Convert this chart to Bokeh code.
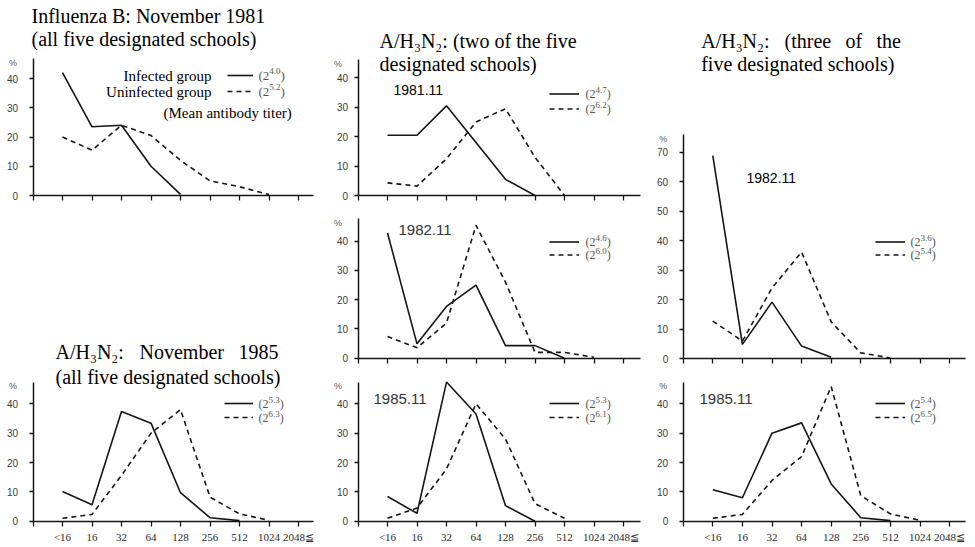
from bokeh.plotting import figure
from bokeh.layouts import row, column
from bokeh.models import Range1d, FixedTicker, Label, Legend, LegendItem
from bokeh.core.properties import value
from bokeh.embed import file_html
from bokeh.resources import INLINE

# HI antibody titer classes (x axis)
titers = ["<16", "16", "32", "64", "128", "256", "512", "1024", "2048\u2266"]

# Influenza B, November 1981 (all five schools)
b81_infected = [42, 23.5, 24, 10, 0.4]
b81_uninfected = [20, 15.5, 24, 20.5, 12, 5, 3, 0.3]
b81_titer = ("4.0", "5.2")

# A/H3N2, two of the five schools
h2_81_infected = [20.5, 20.5, 30.5, 18, 5.5, 0]
h2_81_uninfected = [4.3, 3.2, 12.5, 25, 29.5, 13, 0]
h2_81_titer = ("4.7", "6.2")

h2_82_infected = [42.8, 4.9, 17.7, 25, 4.3, 4.3, 0]
h2_82_uninfected = [7.4, 3.6, 12, 45.4, 26, 2, 2, 0.3]
h2_82_titer = ("4.6", "6.0")

h2_85_infected = [8.4, 2.7, 47.4, 36.5, 5.3, 0]
h2_85_uninfected = [1, 4.5, 17.8, 40, 28, 6, 1]
h2_85_titer = ("5.3", "6.1")

# A/H3N2, three of the five schools
h3_82_infected = [68.9, 4.9, 19.2, 4.3, 0.5]
h3_82_uninfected = [12.8, 6, 24, 36.2, 12.5, 2, 0.3]
h3_82_titer = ("3.6", "5.4")

h3_85_infected = [10.7, 8, 30, 33.5, 12.7, 1.2, 0.2]
h3_85_uninfected = [1, 2.3, 13.9, 22, 45.9, 8.7, 2.5, 0.3]
h3_85_titer = ("5.4", "6.5")

# A/H3N2, November 1985 (all five schools)
all85_infected = [10.1, 5.6, 37.4, 33.4, 9.7, 1.2, 0.2]
all85_uninfected = [1, 2.3, 15.6, 30, 38, 8.2, 2.5, 0.3]
all85_titer = ("5.3", "6.3")

yticks_40 = [0, 10, 20, 30, 40]
yticks_70 = [0, 10, 20, 30, 40, 50, 60, 70]

SERIF = "Liberation Serif"
SANS = "Liberation Sans"
INK = "#151515"

# column geometry: page x of the y axis, pixels per titer class, page x of the axis end
COL_A = (32.5, 29.5, 313)
COL_B = (357.5, 29.5, 640)
COL_C = (682.7, 29.6, 965)


class Panel:
    def __init__(self, fx, fy, width, height, col, zero_y, scale, top_y, yticks,
                 tick_labels, y_standoff):
        axis_x, dx, right_x = col
        self.fx, self.fy, self.h = fx, fy, height
        x0 = -1 - (axis_x - fx) / dx
        x1 = x0 + width / dx
        y1 = (zero_y - fy) / scale
        y0 = -(fy + height - zero_y) / scale
        self.x0, self.y1 = x0, y1
        p = figure(width=width, height=height, title=None,
                   x_range=Range1d(x0, x1), y_range=Range1d(y0, y1),
                   output_backend="svg", toolbar_location=None, min_border=0)
        p.outline_line_color = None
        p.xgrid.visible = False
        p.ygrid.visible = False
        p.background_fill_color = "white"
        p.border_fill_color = "white"

        xa = p.xaxis[0]
        xa.fixed_location = 0
        xa.bounds = (-1, (right_x - axis_x) / dx - 1)
        xa.ticker = FixedTicker(ticks=list(range(-1, len(titers))))
        if tick_labels:
            overrides = {-1: ""}
            overrides.update({i: t for i, t in enumerate(titers)})
        else:
            overrides = {i: "" for i in range(-1, len(titers))}
        xa.major_label_overrides = overrides
        xa.major_label_text_font_size = "11px"
        xa.major_label_standoff = 5
        xa.major_label_text_font = SERIF
        xa.major_label_text_color = "#2a2a2a"
        xa.major_tick_in = 0
        xa.major_tick_out = 5
        xa.minor_tick_out = 0
        xa.minor_tick_in = 0
        xa.axis_line_width = 1.5
        xa.major_tick_line_width = 1.3
        xa.axis_line_color = INK
        xa.major_tick_line_color = INK

        ya = p.yaxis[0]
        ya.fixed_location = -1
        ya.bounds = (0, (zero_y - top_y) / scale)
        ya.ticker = FixedTicker(ticks=yticks)
        ya.major_label_text_font = SANS
        ya.major_label_text_font_size = "10px"
        ya.major_label_text_color = "#3a3a3a"
        ya.major_label_standoff = y_standoff
        ya.major_tick_in = 0
        ya.major_tick_out = 4
        ya.minor_tick_out = 0
        ya.minor_tick_in = 0
        ya.axis_line_width = 1.5
        ya.major_tick_line_width = 1.3
        ya.axis_line_color = INK
        ya.major_tick_line_color = INK
        self.p = p
        # percent sign at the top of the y axis
        self.text("%", axis_x - 16, top_y + 4, 9, color="#555", font=SANS, align="right")

    def text(self, s, px, py, size, color="black", font=SERIF, align="left", baseline="middle"):
        self.p.add_layout(Label(x=self.x0, y=self.y1, x_offset=px - self.fx,
                                y_offset=-(py - self.fy), text=s, text_font=font,
                                text_font_size=f"{size}px", text_color=color,
                                text_align=align, text_baseline=baseline))

    def series(self, infected, uninfected, titer, sample_x, rows, glyph_w, t_x, base=12):
        p = self.p
        r1 = p.line(list(range(len(infected))), infected, line_width=1.6, line_color=INK)
        r2 = p.line(list(range(len(uninfected))), uninfected, line_width=1.6, line_color=INK,
                    line_dash="5 4")
        gap = rows[1] - rows[0]
        legend = Legend(items=[LegendItem(label=value(" "), renderers=[r1]),
                               LegendItem(label=value(" "), renderers=[r2])],
                        location=(sample_x - self.fx, self.fy + self.h - (rows[1] + gap / 2)),
                        glyph_width=glyph_w, glyph_height=gap, label_height=gap,
                        label_width=0, label_standoff=0, spacing=0, padding=0, margin=0,
                        border_line_color=None, background_fill_alpha=0,
                        label_text_font_size="1px")
        p.add_layout(legend)
        for exp, y in zip(titer, rows):
            self.text("(2", t_x, y, base, color="#555")
            w1 = 0.833 * base
            sup = round(base * 0.72)
            self.text(exp, t_x + w1, y - base * 0.33, sup, color="#555")
            w2 = 1.25 * sup
            self.text(")", t_x + w1 + w2, y, base, color="#555")


# --- column A ---
pa1 = Panel(0, 0, 330, 330, COL_A, 195, 2.925, 58, yticks_40, False, 11)
pa1.series(b81_infected, b81_uninfected, b81_titer, 227, (75, 91), 26, 258, base=13)
pa1.text("Influenza B: November 1981", 31, 15, 20)
pa1.text("(all five designated schools)", 31, 38, 20)
pa1.text("Infected group", 211, 75, 15, align="right")
pa1.text("Uninfected group", 211, 91, 15, align="right")
pa1.text("(Mean antibody titer)", 163, 112, 15)

pa2 = Panel(0, 330, 330, 217, COL_A, 520.7, 2.935, 381.7, yticks_40, True, 11)
pa2.series(all85_infected, all85_uninfected, all85_titer, 224, (403, 417), 29, 258)
pa2.text("A/H\u2083N\u2082:", 55, 351.7, 20)
pa2.text("November", 139, 351.7, 20)
pa2.text("1985", 278, 351.7, 20, align="right")
pa2.text("(all five designated schools)", 55, 376.7, 20)

# --- column B ---
pb1 = Panel(330, 0, 325, 207, COL_B, 195, 2.94, 59, yticks_40, False, 6)
pb1.series(h2_81_infected, h2_81_uninfected, h2_81_titer, 549, (93, 108), 30, 585)
pb1.text("A/H\u2083N\u2082: (two of the five", 379, 40, 20)
pb1.text("designated schools)", 379, 63, 20)
pb1.text("1981.11", 393, 89, 14, font=SANS)

pb2 = Panel(330, 207, 325, 163, COL_B, 357.7, 2.925, 218, yticks_40, False, 6)
pb2.series(h2_82_infected, h2_82_uninfected, h2_82_titer, 549, (241, 254), 30, 585)
pb2.text("1982.11", 398, 229, 15, color="#333", font=SANS)

pb3 = Panel(330, 370, 325, 177, COL_B, 520.7, 2.935, 381.7, yticks_40, True, 6)
pb3.series(h2_85_infected, h2_85_uninfected, h2_85_titer, 549, (403, 417), 30, 585)
pb3.text("1985.11", 373, 398, 15, color="#333", font=SANS)

# --- column C ---
pc1 = Panel(655, 0, 320, 370, COL_C, 358.3, 2.95, 134, yticks_70, False, 11)
pc1.series(h3_82_infected, h3_82_uninfected, h3_82_titer, 875, (241, 254), 30, 910)
pc1.text("A/H\u2083N\u2082:", 700.7, 40, 20)
pc1.text("(three", 784, 40, 20)
pc1.text("of", 845, 40, 20)
pc1.text("the", 900.5, 40, 20, align="right")
pc1.text("five designated schools)", 700.7, 63, 20)
pc1.text("1982.11", 746, 177, 14, font=SANS)

pc2 = Panel(655, 370, 320, 177, COL_C, 520.7, 2.935, 381.7, yticks_40, True, 11)
pc2.series(h3_85_infected, h3_85_uninfected, h3_85_titer, 875, (403, 417), 30, 910)
pc2.text("1985.11", 699, 398, 15, color="#333", font=SANS)

layout = row(
    column(pa1.p, pa2.p),
    column(pb1.p, pb2.p, pb3.p),
    column(pc1.p, pc2.p),
)

open("out.html", "w").write(file_html(layout, INLINE))
